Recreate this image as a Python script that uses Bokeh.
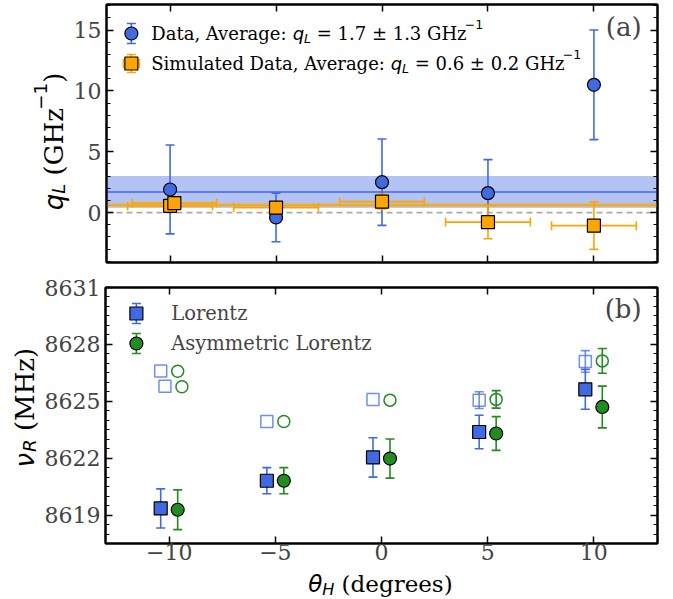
import numpy as np
from bokeh.plotting import figure
from bokeh.models import FixedTicker, LinearAxis, Label, Range1d, Span, BoxAnnotation
from bokeh.layouts import column, row
from bokeh.embed import file_html
from bokeh.resources import INLINE

# ---------------- data ----------------
theta = [-10, -5, 0, 5, 10]
ql_data = [1.9, -0.4, 2.5, 1.6, 10.5]
ql_data_err = [3.65, 2.0, 3.55, 2.75, 4.5]

sim_theta = [-10.0, -9.8, -5.0, 0.0, 5.0, 10.0]
sim_theta_err = [2.0, 2.0, 2.0, 2.0, 2.0, 2.0]
sim_ql = [0.55, 0.78, 0.41, 0.9, -0.78, -1.07]
sim_ql_err = [0.3, 0.3, 0.3, 0.6, 1.37, 1.95]

avg_data, avg_data_err = 1.7, 1.3
avg_sim, avg_sim_err = 0.6, 0.2

lor_theta = [-10.4, -5.4, -0.4, 4.6, 9.6]
lor_nu = [8619.35, 8620.81, 8622.04, 8623.38, 8625.63]
lor_err = [1.03, 0.69, 1.04, 0.88, 1.05]
asym_theta = [-9.6, -4.6, 0.4, 5.4, 10.4]
asym_nu = [8619.28, 8620.81, 8621.98, 8623.30, 8624.70]
asym_err = [1.05, 0.69, 1.03, 0.89, 1.10]

lor_alt_theta = [-10.4, -10.2, -5.4, -0.4, 4.6, 9.6]
lor_alt_nu = [8626.60, 8625.79, 8623.93, 8625.09, 8625.06, 8627.10]
lor_alt_err = [0.0, 0.0, 0.0, 0.0, 0.44, 0.57]
asym_alt_theta = [-9.6, -9.4, -4.6, 0.4, 5.4, 10.4]
asym_alt_nu = [8626.58, 8625.77, 8623.93, 8625.06, 8625.10, 8627.13]
asym_alt_err = [0.0, 0.0, 0.0, 0.0, 0.46, 0.65]

x_ticks = [-10, -5, 0, 5, 10]
x_tick_labels = {-10: "\u221210", -5: "\u22125", 0: "0", 5: "5", 10: "10"}
q_ticks = [0, 5, 10, 15]
nu_ticks = [8619, 8622, 8625, 8628, 8631]

BLUE = "#4169e1"
GREEN = "#228b22"
ORANGE = "#ffa500"
SERIF = "DejaVu Serif"
SANS = "DejaVu Sans"
NB = "\u00a0"

# ---------------- geometry (page pixels) ----------------
PW = 673
FL, FR = 103, 657
T1, B1 = 4, 262
H1 = 270
T2, B2 = 287, 543
H2 = 299
XR = (-13, 13)
Y1R = (-4.1, 17.1)
Y2R = (8617.5, 8631)
L1W, L2W = 70, 41


def to_x(px):
    return XR[0] + (px - FL) * (XR[1] - XR[0]) / (FR - FL)


def to_y1(py):
    return Y1R[1] - (py - T1) * (Y1R[1] - Y1R[0]) / (B1 - T1)


def to_y2(py):
    return Y2R[1] - (py - T2) * (Y2R[1] - Y2R[0]) / (B2 - T2)


# advance widths (em)
W_SERIF = {' ': .318, NB: .318, '(': .390, ')': .390, ',': .318, '.': .318, ':': .337,
           '=': .838, '\u00b1': .838, 'A': .722, 'D': .829, 'G': .775, 'H': .837,
           'L': .693, 'M': .994, 'S': .686, 'a': .596, 'd': .640, 'e': .592, 'g': .640,
           'i': .321, 'l': .321, 'm': .952, 'n': .644, 'o': .602, 'r': .478, 's': .513,
           't': .402, 'u': .644, 'v': .565, 'y': .565, 'z': .525, 'c': .563}
for d in "0123456789":
    W_SERIF[d] = .636
W_SANS = {'q': .635, 'L': .557, '\u03bd': .592, 'R': .695, '\u03b8': .602, 'H': .752,
          '\u2212': .838, '1': .636}


def text_width(t, font, size):
    tab = W_SERIF if font == SERIF else W_SANS
    return sum(tab.get(c, .6) for c in t) * size


def compose(p, pieces, px, py, fx, fy, rotated=False):
    """pieces: (text, font, style, size, up_px); (px, py) = page pixel of the start
    of the text's centre line."""
    cum = 0.0
    for t, font, style, size, up in pieces:
        if rotated:
            ax, ay, ang = px - up, py - cum, np.pi / 2
        else:
            ax, ay, ang = px + cum, py - up, 0.0
        p.add_layout(Label(x=fx(ax), y=fy(ay), text=t, text_font=font,
                           text_font_style=style, text_font_size=f"{size:.1f}px",
                           text_align="left", text_baseline="middle",
                           angle=ang, text_color="black"))
        cum += text_width(t, font, size)
    return cum


def total_width(pieces):
    return sum(text_width(t, f, s) for t, f, st, s, r in pieces)


def qlabel(prefix, rest, F):
    s = 0.7 * F
    return [(prefix, SERIF, "normal", F, 0),
            ("q", SANS, "italic", F, 0),
            ("L", SANS, "italic", s, -0.29 * F),
            (rest, SERIF, "normal", F, 0),
            ("\u22121", SANS, "normal", s, 0.52 * F)]


def tick_style(ax):
    ax.axis_line_width = 2
    ax.axis_line_color = "black"
    ax.major_tick_in = 7
    ax.major_tick_out = 0
    ax.minor_tick_in = 4
    ax.minor_tick_out = 0
    ax.major_tick_line_width = 1.5
    ax.minor_tick_line_width = 1.2
    ax.major_label_text_font = SERIF
    ax.major_label_text_font_size = "22px"


def hide_labels(ax, ticks):
    ax.major_label_overrides = {t: "" for t in ticks}
    ax.major_label_text_font_size = "0px"
    ax.major_label_standoff = 0


def style_axes(p, yticks, yminor, show_x_labels):
    for ax in p.axis:
        tick_style(ax)
    p.xaxis[0].ticker = FixedTicker(ticks=x_ticks, minor_ticks=[])
    p.yaxis[0].ticker = FixedTicker(ticks=yticks, minor_ticks=yminor)
    p.yaxis[0].major_label_standoff = 5
    p.yaxis[0].major_label_overrides = {t: str(t) for t in yticks}
    if show_x_labels:
        p.xaxis[0].major_label_overrides = x_tick_labels
        p.xaxis[0].major_label_standoff = 0
    else:
        hide_labels(p.xaxis[0], x_ticks)
    right = LinearAxis(ticker=FixedTicker(ticks=yticks, minor_ticks=yminor))
    top = LinearAxis(ticker=FixedTicker(ticks=x_ticks, minor_ticks=[]))
    tick_style(right)
    tick_style(top)
    hide_labels(right, yticks)
    hide_labels(top, x_ticks)
    p.add_layout(right, "right")
    p.add_layout(top, "above")


def yerrbar(p, x, y, err, color, cap=9, lw=1.6, alpha=1.0):
    xs = [a for a, e in zip(x, err) if e > 0]
    lo = [b - e for b, e in zip(y, err) if e > 0]
    hi = [b + e for b, e in zip(y, err) if e > 0]
    if not xs:
        return
    p.segment(x0=xs, y0=lo, x1=xs, y1=hi, line_color=color, line_width=lw, line_alpha=alpha)
    p.scatter(x=xs + xs, y=lo + hi, marker="dash", size=cap, line_color=color,
              line_width=lw, line_alpha=alpha)


def xerrbar(p, x, y, err, color, cap=9, lw=1.6):
    lo = [a - e for a, e in zip(x, err)]
    hi = [a + e for a, e in zip(x, err)]
    p.segment(x0=lo, y0=y, x1=hi, y1=y, line_color=color, line_width=lw)
    p.scatter(x=lo + hi, y=list(y) + list(y), marker="dash", angle=np.pi / 2, size=cap,
              line_color=color, line_width=lw)


def label_fig(w, h, top=0, bottom=0):
    f = figure(width=w, height=h, x_range=Range1d(0, w), y_range=Range1d(bottom, h - top),
               output_backend="svg", toolbar_location=None, title=None,
               x_axis_location=None, y_axis_location=None,
               min_border_left=0, min_border_right=0,
               min_border_top=top, min_border_bottom=bottom)
    f.grid.visible = False
    f.outline_line_color = None
    return f


# ---------------- top panel ----------------
p1 = figure(width=PW - L1W, height=H1, x_range=Range1d(*XR), y_range=Range1d(*Y1R),
            output_backend="svg", toolbar_location=None,
            min_border_left=FL - L1W, min_border_right=PW - FR,
            min_border_top=T1, min_border_bottom=H1 - B1)
p1.grid.visible = False
p1.outline_line_color = "black"
p1.outline_line_width = 2
style_axes(p1, q_ticks, list(range(-4, 18)), False)

p1.add_layout(BoxAnnotation(bottom=avg_data - avg_data_err, top=avg_data + avg_data_err,
                            fill_color=BLUE, fill_alpha=0.4, line_color=None, level="underlay"))
p1.add_layout(BoxAnnotation(bottom=avg_sim - avg_sim_err, top=avg_sim + avg_sim_err,
                            fill_color=ORANGE, fill_alpha=0.3, line_color=None, level="underlay"))
p1.add_layout(Span(location=0, dimension="width", line_color="#aaaaaa", line_width=1.6,
                   line_dash="6 4", level="underlay"))
p1.add_layout(Span(location=avg_data, dimension="width", line_color=BLUE, line_width=1.5,
                   level="underlay"))
p1.add_layout(Span(location=avg_sim, dimension="width", line_color=ORANGE, line_width=1.6,
                   level="underlay"))

yerrbar(p1, theta, ql_data, ql_data_err, BLUE)
p1.scatter(theta, ql_data, marker="circle", size=13, fill_color=BLUE,
           line_color="black", line_width=1.2)
xerrbar(p1, sim_theta, sim_ql, sim_theta_err, ORANGE)
yerrbar(p1, sim_theta, sim_ql, sim_ql_err, ORANGE)
p1.scatter(sim_theta, sim_ql, marker="square", size=13, fill_color=ORANGE,
           line_color="black", line_width=1.2)

# legend (a)
LEG1 = 18
lx, ly1, ly2 = 128, 33, 63
p1.segment(x0=[to_x(lx)], y0=[to_y1(ly1 - 10)], x1=[to_x(lx)], y1=[to_y1(ly1 + 10)],
           line_color=BLUE, line_width=1.6)
p1.scatter([to_x(lx)] * 2, [to_y1(ly1 - 10), to_y1(ly1 + 10)], marker="dash", size=9,
           line_color=BLUE, line_width=1.6)
p1.scatter([to_x(lx)], [to_y1(ly1)], marker="circle", size=13, fill_color=BLUE,
           line_color="black", line_width=1.2)
p1.segment(x0=[to_x(lx - 8)], y0=[to_y1(ly2)], x1=[to_x(lx + 8)], y1=[to_y1(ly2)],
           line_color=ORANGE, line_width=1.6)
p1.segment(x0=[to_x(lx)], y0=[to_y1(ly2 - 9)], x1=[to_x(lx)], y1=[to_y1(ly2 + 9)],
           line_color=ORANGE, line_width=1.6)
p1.scatter([to_x(lx - 8), to_x(lx + 8)], [to_y1(ly2)] * 2, marker="dash", angle=np.pi / 2,
           size=9, line_color=ORANGE, line_width=1.6)
p1.scatter([to_x(lx)] * 2, [to_y1(ly2 - 9), to_y1(ly2 + 9)], marker="dash", size=9,
           line_color=ORANGE, line_width=1.6)
p1.scatter([to_x(lx)], [to_y1(ly2)], marker="square", size=13, fill_color=ORANGE,
           line_color="black", line_width=1.2)

compose(p1, qlabel("Data, Average:" + NB,
                   NB + "=" + NB + "1.7" + NB + "\u00b1" + NB + "1.3" + NB + "GHz", LEG1),
        148, ly1, to_x, to_y1)
compose(p1, qlabel("Simulated Data, Average:" + NB,
                   NB + "=" + NB + "0.6" + NB + "\u00b1" + NB + "0.2" + NB + "GHz", LEG1),
        148, ly2, to_x, to_y1)

p1.add_layout(Label(x=to_x(641), y=to_y1(26), text="(a)", text_font=SERIF,
                    text_font_size="26px", text_align="right", text_baseline="middle"))

FY = 26
L1 = label_fig(L1W, H1, T1, H1 - B1)
ylab1 = [("q", SANS, "italic", FY, 0), ("L", SANS, "italic", 0.7 * FY, -0.2 * FY),
         (NB + "(GHz", SERIF, "normal", FY, 0), ("\u22121", SANS, "normal", 0.7 * FY, 0.5 * FY),
         (")", SERIF, "normal", FY, 0)]
compose(L1, ylab1, 53, 141 + total_width(ylab1) / 2,
        lambda px: px, lambda py: H1 - py, rotated=True)

# ---------------- bottom panel ----------------
p2 = figure(width=PW - L2W, height=H2, x_range=Range1d(*XR), y_range=Range1d(*Y2R),
            output_backend="svg", toolbar_location=None,
            min_border_left=FL - L2W, min_border_right=PW - FR,
            min_border_top=T2 - H1, min_border_bottom=H1 + H2 - B2)
p2.grid.visible = False
p2.outline_line_color = "black"
p2.outline_line_width = 2
style_axes(p2, nu_ticks, list(np.arange(8617.5, 8631.01, 0.5)), True)

yerrbar(p2, lor_alt_theta, lor_alt_nu, lor_alt_err, BLUE, alpha=0.75)
p2.scatter(lor_alt_theta, lor_alt_nu, marker="square", size=12, fill_color="white",
           fill_alpha=0.0, line_color=BLUE, line_alpha=0.75, line_width=1.5)
yerrbar(p2, asym_alt_theta, asym_alt_nu, asym_alt_err, GREEN)
p2.scatter(asym_alt_theta, asym_alt_nu, marker="circle", size=12, fill_color="white",
           fill_alpha=0.0, line_color=GREEN, line_width=1.5)

yerrbar(p2, lor_theta, lor_nu, lor_err, BLUE)
p2.scatter(lor_theta, lor_nu, marker="square", size=13, fill_color=BLUE,
           line_color="black", line_width=1.2)
yerrbar(p2, asym_theta, asym_nu, asym_err, GREEN)
p2.scatter(asym_theta, asym_nu, marker="circle", size=13, fill_color=GREEN,
           line_color="black", line_width=1.2)

# legend (b)
LEG2 = 19.5
bx, by1, by2 = 134, 313, 343
for yy, col, mk in ((by1, BLUE, "square"), (by2, GREEN, "circle")):
    p2.segment(x0=[to_x(bx)], y0=[to_y2(yy - 10)], x1=[to_x(bx)], y1=[to_y2(yy + 10)],
               line_color=col, line_width=1.6)
    p2.scatter([to_x(bx)] * 2, [to_y2(yy - 10), to_y2(yy + 10)], marker="dash", size=9,
               line_color=col, line_width=1.6)
    p2.scatter([to_x(bx)], [to_y2(yy)], marker=mk, size=13, fill_color=col,
               line_color="black", line_width=1.2)
p2.add_layout(Label(x=to_x(169), y=to_y2(by1), text="Lorentz", text_font=SERIF,
                    text_font_size=f"{LEG2}px", text_baseline="middle"))
p2.add_layout(Label(x=to_x(169), y=to_y2(by2), text="Asymmetric Lorentz", text_font=SERIF,
                    text_font_size=f"{LEG2}px", text_baseline="middle"))

p2.add_layout(Label(x=to_x(641), y=to_y2(308), text="(b)", text_font=SERIF,
                    text_font_size="26px", text_align="right", text_baseline="middle"))

L2 = label_fig(L2W, H2, T2 - H1, H1 + H2 - B2)
ylab2 = [("\u03bd", SANS, "italic", FY, 0), ("R", SANS, "italic", 0.7 * FY, -0.2 * FY),
         (NB + "(MHz)", SERIF, "normal", FY, 0)]
compose(L2, ylab2, 24, 408 + total_width(ylab2) / 2,
        lambda px: px, lambda py: H1 + H2 - py, rotated=True)

XH = 599 - (H1 + H2)
XL = label_fig(PW, XH)
FX = 23
xlab = [("\u03b8", SANS, "italic", FX, 0), ("H", SANS, "italic", 0.7 * FX, -0.24 * FX),
        (NB + "(degrees)", SERIF, "normal", FX, 0)]
compose(XL, xlab, 380 - total_width(xlab) / 2, 583,
        lambda px: px, lambda py: 599 - py)

layout = column(row(L1, p1, spacing=0), row(L2, p2, spacing=0), XL, spacing=0)
open("out.html", "w").write(file_html(layout, INLINE))
